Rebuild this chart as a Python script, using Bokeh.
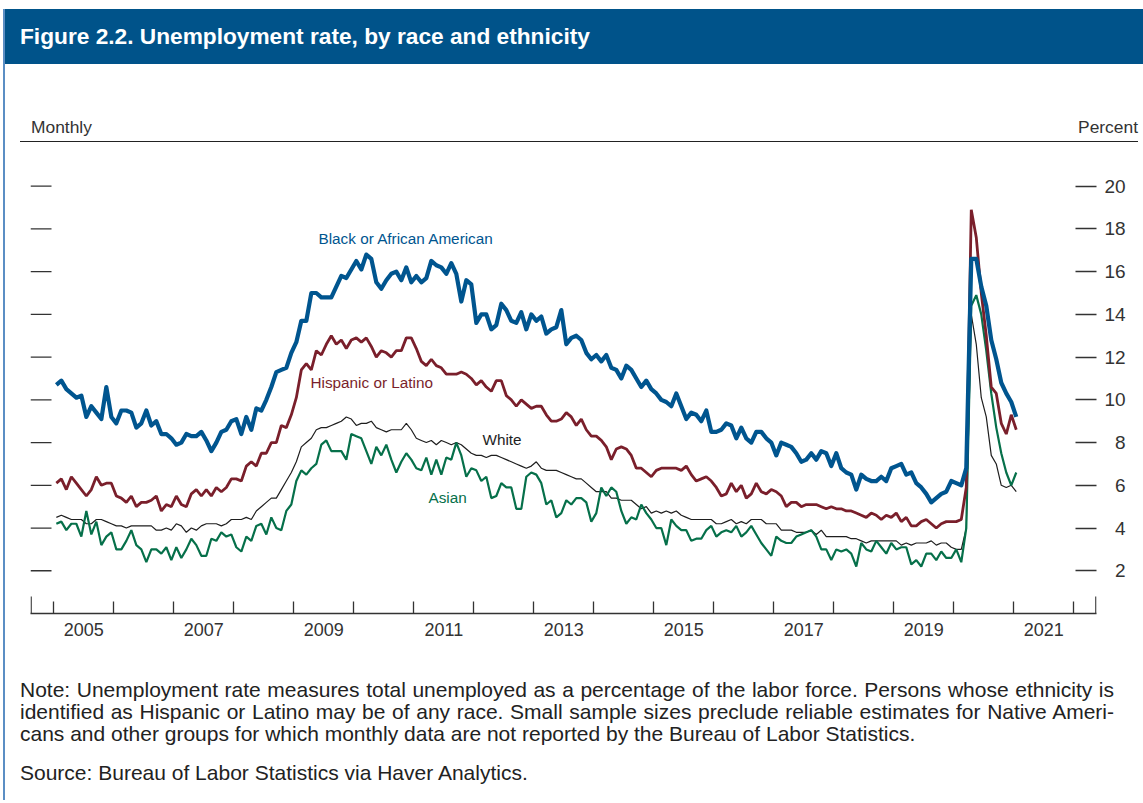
from bokeh.plotting import figure
from bokeh.models import Range1d, FixedTicker, Label, Div, LinearAxis
from bokeh.layouts import column
from bokeh.embed import file_html
from bokeh.resources import INLINE

# ---------------- data (monthly, Jan 2005 - Jan 2021, percent) ----------------
START_YEAR = 2005

black = [
    10.7, 10.9, 10.5, 10.3, 10.1, 10.2, 9.2, 9.7, 9.4, 9.1, 10.6, 9.2,
    8.9, 9.5, 9.5, 9.4, 8.7, 8.9, 9.5, 8.8, 9.0, 8.4, 8.4, 8.2,
    7.9, 8.0, 8.4, 8.3, 8.3, 8.5, 8.1, 7.6, 8.0, 8.5, 8.6, 9.0,
    9.1, 8.4, 9.2, 8.6, 9.6, 9.5, 10.0, 10.6, 11.3, 11.4, 11.5, 12.2,
    12.7, 13.7, 13.7, 15.0, 15.0, 14.8, 14.8, 14.8, 15.3, 15.8, 15.7, 16.1,
    16.5, 16.1, 16.8, 16.6, 15.5, 15.2, 15.6, 15.9, 16.0, 15.6, 16.2, 15.5,
    15.8, 15.5, 15.7, 16.5, 16.3, 16.2, 15.9, 16.4, 15.9, 14.6, 15.6, 15.4,
    13.6, 14.0, 14.0, 13.3, 13.5, 14.5, 14.2, 13.7, 13.6, 14.1, 13.3, 14.0,
    13.7, 13.9, 13.1, 13.3, 13.4, 14.2, 12.6, 12.9, 13.0, 12.8, 12.2, 11.9,
    12.1, 11.8, 12.1, 11.5, 11.4, 11.0, 11.6, 11.4, 11.0, 10.6, 10.9, 10.5,
    10.3, 10.0, 9.9, 9.7, 10.3, 9.7, 9.1, 9.4, 9.3, 9.0, 9.5, 8.5,
    8.5, 8.6, 8.9, 8.8, 8.2, 8.7, 8.2, 8.0, 8.5, 8.5, 8.2, 8.0,
    7.4, 8.0, 7.9, 7.8, 7.5, 7.1, 7.2, 7.5, 7.2, 7.6, 7.5, 6.9,
    7.5, 6.8, 6.6, 6.5, 5.8, 6.5, 6.3, 6.2, 6.2, 6.4, 6.2, 6.8,
    6.9, 7.0, 6.5, 6.6, 6.1, 5.9, 5.6, 5.2, 5.4, 5.6, 5.7, 6.2,
    6.1, 6.0, 6.8, 16.6, 16.6, 15.3, 14.4, 12.8, 11.9, 10.8, 10.3, 9.9,
    9.2,
]

hispanic = [
    6.1, 6.3, 5.8, 6.4, 6.1, 5.8, 5.5, 5.8, 6.4, 6.0, 6.1, 6.1,
    5.5, 5.4, 5.2, 5.5, 5.0, 5.2, 5.2, 5.3, 5.5, 4.8, 5.1, 5.0,
    5.5, 5.1, 5.0, 5.6, 5.8, 5.5, 5.8, 5.5, 5.9, 5.7, 5.9, 6.3,
    6.3, 6.2, 6.9, 7.1, 6.9, 7.5, 7.5, 8.0, 8.0, 8.8, 8.7, 9.3,
    10.1, 11.4, 11.7, 11.4, 12.3, 12.1, 12.6, 13.0, 12.6, 12.8, 12.4, 12.8,
    12.9, 12.7, 12.9, 12.5, 12.0, 12.3, 12.2, 12.0, 12.3, 12.3, 12.9, 12.9,
    12.4, 11.8, 11.6, 11.9, 11.6, 11.5, 11.2, 11.2, 11.2, 11.3, 11.2, 11.0,
    10.7, 10.9, 10.6, 10.4, 10.9, 10.9, 10.2, 10.0, 9.7, 10.0, 9.8, 9.6,
    9.7, 9.7, 9.3, 9.0, 9.0, 9.1, 9.4, 9.2, 8.8, 9.1, 8.6, 8.3,
    8.3, 8.1, 7.8, 7.2, 7.7, 7.8, 7.7, 7.4, 6.8, 6.8, 6.6, 6.4,
    6.7, 6.8, 6.8, 6.8, 6.8, 6.7, 6.9, 6.5, 6.2, 6.3, 6.4, 6.2,
    5.9, 5.5, 5.6, 6.1, 5.7, 6.0, 5.4, 5.6, 6.1, 5.7, 5.6, 5.8,
    5.7, 5.5, 5.0, 5.2, 5.2, 5.0, 5.1, 5.1, 5.1, 5.0, 4.9, 5.0,
    4.9, 4.9, 4.8, 4.8, 4.7, 4.6, 4.5, 4.7, 4.6, 4.4, 4.6, 4.5,
    4.7, 4.3, 4.5, 4.1, 4.1, 4.3, 4.4, 4.2, 4.0, 4.2, 4.3, 4.3,
    4.3, 4.4, 5.9, 18.9, 17.6, 15.0, 13.0, 10.6, 10.3, 8.9, 8.4, 9.3,
    8.6,
]

white = [
    4.5, 4.6, 4.5, 4.4, 4.4, 4.4, 4.2, 4.2, 4.4, 4.4, 4.3, 4.2,
    4.1, 4.1, 4.0, 4.1, 4.1, 4.1, 4.1, 4.1, 3.9, 3.9, 4.0, 3.9,
    4.2, 4.1, 3.8, 4.0, 3.9, 4.1, 4.2, 4.2, 4.2, 4.1, 4.2, 4.4,
    4.4, 4.4, 4.5, 4.4, 4.8, 5.0, 5.2, 5.4, 5.4, 5.8, 6.2, 6.6,
    7.1, 7.8, 8.0, 8.2, 8.6, 8.7, 8.7, 8.8, 8.9, 9.0, 9.2, 9.1,
    8.8, 8.9, 8.9, 9.0, 8.7, 8.6, 8.5, 8.6, 8.6, 8.6, 8.9, 8.6,
    8.2, 8.1, 8.0, 8.1, 7.9, 8.1, 8.0, 7.9, 8.0, 7.9, 7.7, 7.5,
    7.4, 7.4, 7.3, 7.4, 7.4, 7.3, 7.2, 7.1, 7.0, 6.9, 6.8, 6.9,
    7.1, 6.8, 6.7, 6.7, 6.7, 6.6, 6.5, 6.4, 6.3, 6.3, 6.1, 5.9,
    5.7, 5.7, 5.7, 5.4, 5.4, 5.3, 5.3, 5.3, 5.1, 4.9, 5.0, 4.7,
    4.8, 4.7, 4.8, 4.7, 4.8, 4.6, 4.5, 4.4, 4.4, 4.4, 4.4, 4.4,
    4.2, 4.2, 4.3, 4.4, 4.2, 4.3, 4.2, 4.4, 4.4, 4.4, 4.2, 4.2,
    4.2, 3.9, 3.9, 3.9, 3.8, 3.8, 3.8, 3.9, 3.7, 3.9, 3.6, 3.6,
    3.6, 3.6, 3.6, 3.5, 3.5, 3.4, 3.3, 3.4, 3.4, 3.4, 3.4, 3.4,
    3.4, 3.2, 3.3, 3.2, 3.3, 3.3, 3.3, 3.4, 3.2, 3.3, 3.3, 3.1,
    3.0, 3.0, 4.0, 14.0, 12.6, 10.1, 9.2, 7.4, 7.0, 6.0, 5.9, 6.0,
    5.7,
]

asian = [
    4.2, 4.3, 3.9, 4.2, 4.2, 3.6, 4.8, 3.7, 4.3, 3.2, 3.6, 3.8,
    3.0, 3.0, 3.4, 3.9, 3.2, 3.0, 2.4, 3.0, 3.0, 2.8, 3.1, 2.5,
    3.1, 2.6, 3.0, 3.5, 3.2, 2.7, 2.7, 3.5, 3.4, 3.8, 3.6, 3.7,
    3.1, 2.9, 3.6, 3.4, 4.1, 4.2, 3.7, 4.5, 4.0, 3.9, 4.8, 5.1,
    6.2, 6.7, 6.5, 6.8, 7.0, 7.9, 8.1, 7.6, 7.6, 7.6, 7.2, 8.4,
    8.3, 8.2, 7.6, 7.0, 7.8, 7.4, 7.9, 7.2, 6.6, 7.1, 7.5, 7.2,
    6.8, 6.7, 7.3, 6.5, 7.2, 6.5, 7.3, 7.2, 8.0, 7.4, 6.4, 6.8,
    6.7, 6.2, 6.4, 5.4, 5.5, 6.1, 5.9, 5.9, 4.9, 4.9, 6.4, 6.6,
    6.5, 6.1, 5.1, 5.3, 4.5, 4.7, 5.3, 5.1, 5.4, 5.4, 5.2, 4.3,
    4.7, 5.9, 5.5, 5.9, 5.7, 4.8, 4.2, 4.5, 4.4, 5.1, 4.7, 4.4,
    4.0, 4.0, 3.2, 4.4, 4.1, 3.9, 3.9, 3.4, 3.5, 3.5, 3.9, 4.1,
    3.6, 3.8, 3.9, 3.8, 4.1, 3.6, 3.8, 4.1, 3.7, 3.3, 3.0, 2.7,
    3.6, 3.4, 3.3, 3.3, 3.6, 3.7, 3.8, 3.9, 3.6, 3.0, 3.0, 2.5,
    3.0, 2.9, 3.0, 2.8, 2.2, 3.3, 3.0, 2.9, 3.4, 3.1, 2.8, 3.3,
    3.0, 3.1, 3.1, 2.3, 2.5, 2.2, 2.8, 2.8, 2.5, 2.9, 2.6, 2.6,
    3.0, 2.4, 4.0, 14.4, 14.9, 14.0, 12.3, 10.3, 8.7, 7.5, 6.6, 6.0,
    6.6,
]

year_ticks = list(range(2005, 2023))
year_labels = ["2005", "2007", "2009", "2011", "2013", "2015", "2017", "2019", "2021"]
y_ticks = [2, 4, 6, 8, 10, 12, 14, 16, 18, 20]

series_names = ["Black or African American", "Hispanic or Latino", "White", "Asian"]

title_text = "Figure 2.2. Unemployment rate, by race and ethnicity"
left_unit = "Monthly"
right_unit = "Percent"
note_lines = [
    "Note: Unemployment rate measures total unemployed as a percentage of the labor force. Persons whose ethnicity is",
    "identified as Hispanic or Latino may be of any race. Small sample sizes preclude reliable estimates for Native Ameri-",
    "cans and other groups for which monthly data are not reported by the Bureau of Labor Statistics.",
]
source_text = "Source: Bureau of Labor Statistics via Haver Analytics."

# month mid-points as decimal years
months = [START_YEAR + (i + 0.5) / 12.0 for i in range(len(black))]

# ---------------- styling ----------------
FONT = "'Liberation Sans', Arial, sans-serif"
HEADER_BLUE = "#00538a"
C_BLACK = "#00558f"
C_HISP = "#7a1f2b"
C_WHITE = "#1e1e1e"
C_ASIAN = "#06704a"
AX = "#333333"

W = 1138            # width of every block (column starts at x=5 after its border)
FIG_H = 510
MB_L, MB_R, MB_T, MB_B = 25, 47, 0, 47
X0, X1 = 2004.611, 2022.379
Y0, Y1 = 0.0, 21.67

PPX = (W - MB_L - MB_R) / (X1 - X0)   # pixels per year
PPY = (FIG_H - MB_T - MB_B) / (Y1 - Y0)   # pixels per percent


def dx(px):
    return px / PPX


def dy(px):
    return px / PPY


p = figure(width=W, height=FIG_H,
           x_range=Range1d(X0, X1), y_range=Range1d(Y0, Y1),
           output_backend="svg", toolbar_location=None,
           min_border_left=MB_L, min_border_right=MB_R,
           min_border_top=MB_T, min_border_bottom=MB_B,
           outline_line_color=None, background_fill_color="white",
           border_fill_color="white", margin=0)
p.xgrid.visible = False
p.ygrid.visible = False

# bottom axis: year boundaries as (upward) minor ticks, labels centred mid-year
label_pos = [int(s) + 0.5 for s in year_labels]
xa = p.xaxis[0]
xa.ticker = FixedTicker(ticks=label_pos, minor_ticks=year_ticks)
xa.major_label_overrides = {pos: s for pos, s in zip(label_pos, year_labels)}
xa.major_tick_line_color = None
xa.major_tick_in = 0
xa.major_tick_out = 0
xa.minor_tick_in = 12
xa.minor_tick_out = 0
xa.minor_tick_line_color = AX
xa.minor_tick_line_width = 1.3
xa.axis_line_color = AX
xa.axis_line_width = 1.5
xa.major_label_standoff = 9
xa.major_label_text_font = FONT
xa.major_label_text_font_size = "18px"
xa.major_label_text_color = AX

# left axis hidden; its inward tick marks drawn as short segments
p.yaxis[0].visible = False
p.segment(x0=[X0] * len(y_ticks), y0=y_ticks, x1=[X0 + dx(21)] * len(y_ticks), y1=y_ticks,
          line_color=AX, line_width=1.3)
# taller end ticks of the time axis
p.segment(x0=[X0 + dx(0.65), X1 - dx(0.65)], y0=[0, 0],
          x1=[X0 + dx(0.65), X1 - dx(0.65)], y1=[dy(17), dy(17)],
          line_color=AX, line_width=1.3)

# right axis with inward ticks and labels
right_labels = {v: (str(v) if v >= 10 else "\u2007" + str(v)) for v in y_ticks}
ra = LinearAxis(ticker=FixedTicker(ticks=y_ticks, minor_ticks=[]),
                major_tick_in=21, major_tick_out=0,
                minor_tick_line_color=None, axis_line_color=None,
                major_label_overrides=right_labels,
                major_label_standoff=8,
                major_label_text_font=FONT,
                major_label_text_font_size="19px",
                major_label_text_color=AX,
                major_tick_line_color=AX, major_tick_line_width=1.3)
p.add_layout(ra, "right")

# series
p.line(months, white, line_color=C_WHITE, line_width=1.2)
p.line(months, asian, line_color=C_ASIAN, line_width=2.2)
p.line(months, hispanic, line_color=C_HISP, line_width=2.8)
p.line(months, black, line_color=C_BLACK, line_width=4.2, line_join="round")

# series labels
lab_pos = [(288, 375, C_BLACK), (280, 231, C_HISP), (452, 174, C_WHITE), (398, 116, C_ASIAN)]
for name, (lx, ly, col) in zip(series_names, lab_pos):
    p.add_layout(Label(x=X0 + dx(lx), y=dy(ly), text=name, text_align="left",
                       text_baseline="middle", text_font=FONT,
                       text_font_size="15.3px", text_color=col))

header = Div(
    text=(f'<div style="width:{W}px;height:55px;background:{HEADER_BLUE};color:#ffffff;'
          f'font-family:{FONT};font-weight:bold;font-size:22.7px;line-height:55px;'
          f'padding-left:15px;box-sizing:border-box;white-space:nowrap;">{title_text}</div>'),
    width=W, height=55, margin=0)

units = Div(
    text=(f'<div style="position:relative;width:{W}px;height:86px;font-family:{FONT};'
          f'font-size:17.4px;line-height:20px;color:{AX};">'
          f'<div style="position:absolute;left:26px;top:53px;">{left_unit}</div>'
          f'<div style="position:absolute;right:5px;top:53px;">{right_unit}</div>'
          f'<div style="position:absolute;left:15px;width:1118px;top:77px;'
          f'border-top:1.5px solid #222222;height:0;"></div>'
          f'</div>'),
    width=W, height=86, margin=0)

line_style = (f'font-family:{FONT};font-size:21px;line-height:22px;color:#222222;'
              'white-space:nowrap;width:1094px;')
just = 'text-align:justify;text-align-last:justify;'
notes_html = (
    f'<div style="padding:19px 0 0 15px;">'
    f'<div style="{line_style}{just}">{note_lines[0]}</div>'
    f'<div style="{line_style}{just}">{note_lines[1]}</div>'
    f'<div style="{line_style}">{note_lines[2]}</div>'
    f'<div style="{line_style}margin-top:17px;">{source_text}</div>'
    f'</div>'
)
notes = Div(text=notes_html, width=W, height=140, margin=0)

layout = column(header, units, p, notes, margin=(9, 0, 0, 3),
                styles={"border-left": "2px solid #5b8ec4"})

open("out.html", "w").write(file_html(layout, INLINE))
